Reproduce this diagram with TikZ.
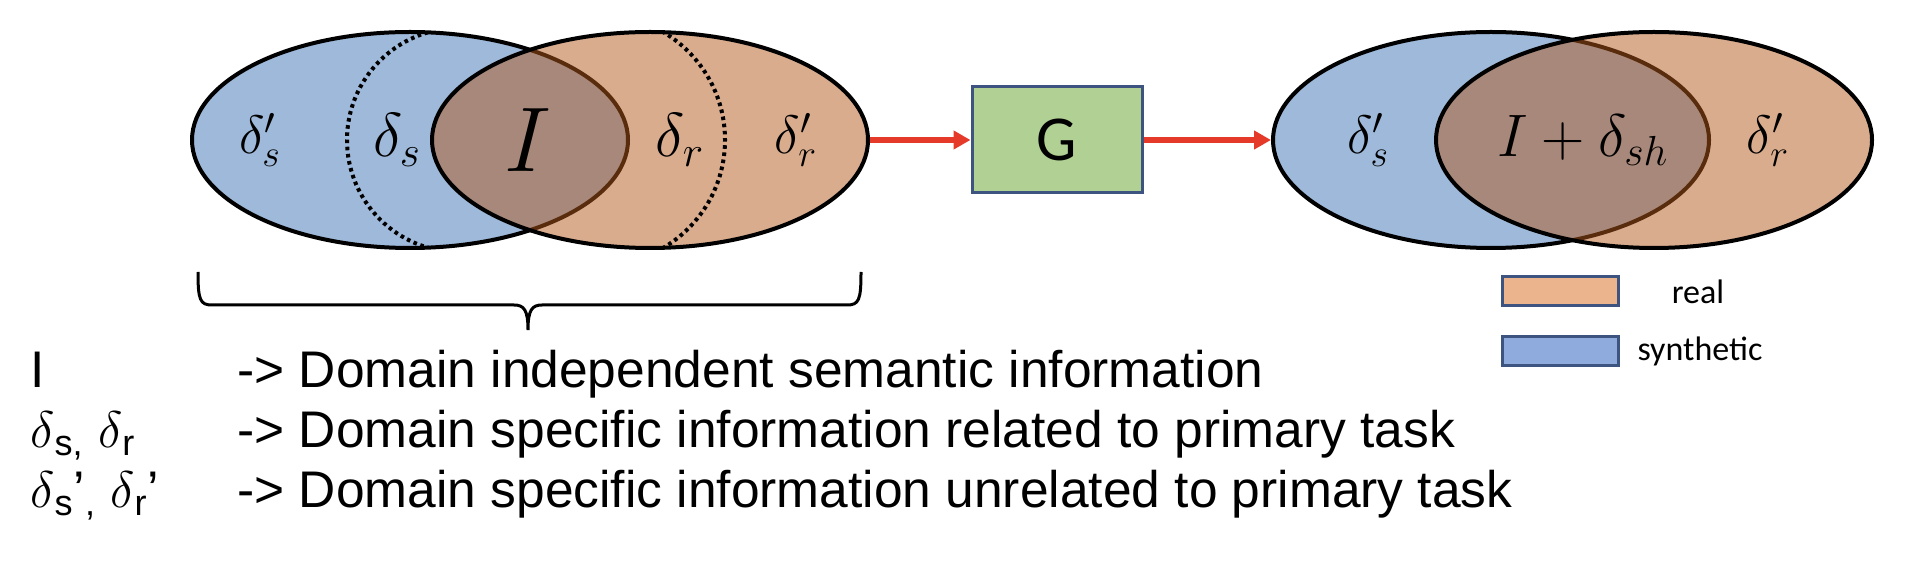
\documentclass[tikz,border=0pt]{standalone}
\usepackage{fix-cm}
\usepackage{fontspec}
\setmainfont{Liberation Sans}
\newfontfamily\calibri{Carlito}
\usetikzlibrary{shapes.geometric,arrows.meta}
\definecolor{synblue}{RGB}{158,185,217}
\definecolor{realorange}{RGB}{179,89,29}
\definecolor{genred}{RGB}{229,57,42}
\definecolor{genfill}{RGB}{176,208,148}
\definecolor{boxline}{RGB}{62,84,128}
\definecolor{legreal}{RGB}{236,180,140}
\definecolor{legsyn}{RGB}{143,170,220}
\tikzstyle{venn} = [ellipse, draw=black, line width=2pt, minimum width=218pt, minimum height=108pt, inner sep=0pt]
\tikzstyle{synset} = [venn, fill=synblue]
\tikzstyle{realset} = [venn, fill=realorange, fill opacity=.5]
\tikzstyle{subset} = [line width=2pt, dash pattern=on 1.8pt off 1.8pt]
\tikzstyle{gen} = [rectangle, draw=boxline, line width=1.5pt, fill=genfill, minimum width=85pt, minimum height=53pt, font=\calibri\fontsize{32}{32}\selectfont]
\tikzstyle{flow} = [-{Triangle[length=8.5pt,width=9pt]}, draw=genred, line width=3pt]
\tikzstyle{legbox} = [rectangle, draw=boxline, line width=1.5pt, minimum width=58pt, minimum height=14.5pt, inner sep=0pt]
\tikzstyle{legtext} = [inner sep=0pt, font=\calibri\fontsize{17}{17}\selectfont]
\tikzstyle{note} = [anchor=base west, inner sep=0pt, font=\fontsize{25.75}{30}\selectfont]
\newcommand{\dpr}[1]{\fontsize{27}{27}\selectfont$#1$}
\newcommand{\dsh}[1]{\fontsize{31}{31}\selectfont$#1$}

\begin{document}
\begin{tikzpicture}[x=0.5pt, y=-0.5pt]
	\useasboundingbox (0,0) rectangle (1920,576);
	\node[synset] (vl) at (410,140) {};
	\begin{scope}
		\clip (410,140) ellipse [x radius=218, y radius=108];
		\draw[subset] (459,252) arc [start angle=90, end angle=270, radius=112];
	\end{scope}
	\node[realset] (vr) at (650,140) {};
	\begin{scope}
		\clip (650,140) ellipse [x radius=218, y radius=108];
		\draw[subset] (600,15) arc [start angle=-90, end angle=90, radius=125];
	\end{scope}
	\node (ls1) at (260,140) {\dpr{\delta'_s}};
	\node (ls) at (397,140) {\dsh{\delta_s}};
	\node (li) at (528,140) {\fontsize{46}{46}\selectfont$I$};
	\node (lr) at (680,140) {\dsh{\delta_r}};
	\node (lr1) at (796,140) {\dpr{\delta'_r}};

	\node[gen] (g) at (1057,140) {G};

	\node[synset] (wl) at (1491,140) {};
	\node[realset] (wr) at (1654,140) {};
	\node (rs1) at (1368,140) {\dpr{\delta'_s}};
	\node (rsh) at (1583,140) {\fontsize{30}{30}\selectfont$I+\delta_{sh}$};
	\node (rr1) at (1768,140) {\dpr{\delta'_r}};

	\draw[flow] (vr.east) -- (g.west);
	\draw[flow] (g.east) -- (wl.west);

	\draw[line width=1.5pt] (198,272) .. controls (198,300) and (200,305) .. (212,305) -- (514,305)
		.. controls (524,305) and (528,310) .. (528,330) .. controls (528,310) and (532,305) .. (542,305)
		-- (847,305) .. controls (859,305) and (861,300) .. (861,272);

	\node[legbox, fill=legreal] (kreal) at (1560.5,291.5) {};
	\node[legbox, fill=legsyn] (ksyn) at (1560.5,351) {};
	\node[legtext] (treal) at (1698,292) {real};
	\node[legtext] (tsyn) at (1700,351) {synthetic};

	\node[note] (ki) at (30,388) {I};
	\node[note] (kd) at (30,448) {$\delta$\textsubscript{s,} $\delta$\textsubscript{r}};
	\node[note] (kp) at (30,508) {$\delta$\textsubscript{s}’\textsubscript{,} $\delta$\textsubscript{r}’};
	\node[note] (ti) at (237,388) {-> Domain independent semantic information};
	\node[note] (td) at (237,448) {-> Domain specific information related to primary task};
	\node[note] (tp) at (237,508) {-> Domain specific information unrelated to primary task};
\end{tikzpicture}
\end{document}
